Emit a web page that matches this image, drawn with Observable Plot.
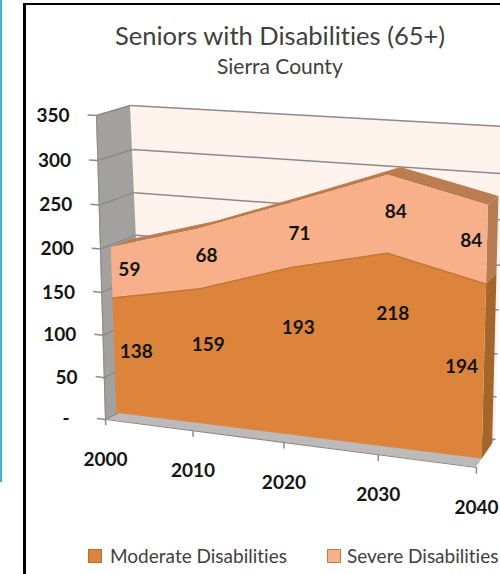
<!DOCTYPE html>
<html>
<head>
<meta charset="utf-8">
<script src="https://cdn.jsdelivr.net/npm/d3@7"></script>
<script src="https://cdn.jsdelivr.net/npm/@observablehq/plot@0.6"></script>
<style>
  html, body { margin: 0; background: #fff; overflow: hidden; }
  #page { position: relative; width: 500px; height: 574px; font-family: Lato, "Open Sans", sans-serif; color: #404040; font-variant-ligatures: none; }
  #rule { position: absolute; left: 0; top: 0; width: 1.5px; height: 482px; background: #3fb4cc; }
  #frameLeft { position: absolute; left: 23px; top: 3px; width: 2.5px; height: 571px; background: #000; }
  #frameTop { position: absolute; left: 23px; top: 3px; width: 477px; height: 2px; background: #000; }
  #title { position: absolute; left: 115px; top: 20px; font-size: 25.5px; line-height: 30px; white-space: nowrap; }
  #subtitle { position: absolute; left: 217px; top: 54px; font-size: 21px; line-height: 24px; white-space: nowrap; }
  #chart { position: absolute; left: 26px; top: 92px; }
  .key { position: absolute; top: 544px; font-size: 19px; line-height: 24px; white-space: nowrap; }
  .swatch { position: absolute; top: 549px; width: 12px; height: 12px; border: 1px solid; }
</style>
</head>
<body>
<div id="page">
  <div id="rule"></div>
  <div id="frameLeft"></div>
  <div id="frameTop"></div>
  <div id="title">Seniors with Disabilities (65+)</div>
  <div id="subtitle">Sierra County</div>
  <div id="chart"></div>
  <div class="swatch" style="left:88px;background:#dc843c;border-color:#b8702f"></div>
  <div class="key" style="left:110px">Moderate Disabilities</div>
  <div class="swatch" style="left:327px;background:#f8b08a;border-color:#c07a45"></div>
  <div class="key" style="left:347px">Severe Disabilities</div>
</div>
<script>
// Population counts by projection year
const years = [2000, 2010, 2020, 2030, 2040];
const moderate = [138, 159, 193, 218, 194];
const severe = [59, 68, 71, 84, 84];
const valueTicks = [0, 50, 100, 150, 200, 250, 300, 350];
const valueTickLabels = ["-\u00a0\u00a0", "50", "100", "150", "200", "250", "300", "350"];

const W = 474, H = 448, OX = 26, OY = 92;

// Linear scales for the unwarped chart sheet
const xDomain = [2000, 2040], xRange = [116 - OX, 482 - OX];
const yDomain = [0, 350], yRange = [413 - OY, 413 - OY - 0.87 * 350];

// Sheet position of a page location, so the box below can be described on the page
const toSheet = ([px, py]) => [
  xDomain[0] + (px - OX - xRange[0]) * (xDomain[1] - xDomain[0]) / (xRange[1] - xRange[0]),
  yDomain[0] + (py - OY - yRange[0]) * (yDomain[1] - yDomain[0]) / (yRange[1] - yRange[0])
];

// Corners of the 3-D box: near and far planes, ordered
// (first year, 0), (last year, 0), (last year, max), (first year, max)
const nearPlane = [[105, 419], [476, 467], [484, 140], [96, 115]].map(toSheet);
const farPlane = [[143, 398], [495, 439], [503, 126], [130, 105]].map(toSheet);

// Depth range occupied by the area solid inside the box
const zFront = 0.3, zBack = 0.85;

function homography(q) {
  const [[x0, y0], [x1, y1], [x2, y2], [x3, y3]] = q;
  const dx1 = x1 - x2, dx2 = x3 - x2, sx = x0 - x1 + x2 - x3;
  const dy1 = y1 - y2, dy2 = y3 - y2, sy = y0 - y1 + y2 - y3;
  const det = dx1 * dy2 - dx2 * dy1;
  const g = (sx * dy2 - dx2 * sy) / det, h = (dx1 * sy - sx * dy1) / det;
  return (u, v) => {
    const w = g * u + h * v + 1;
    return [
      ((x1 - x0 + g * x1) * u + (x3 - x0 + h * x3) * v + x0) / w,
      ((y1 - y0 + g * y1) * u + (y3 - y0 + h * y3) * v + y0) / w
    ];
  };
}

// Perspective projection of (year, value, depth) onto the sheet
function P(year, value, z) {
  const q = nearPlane.map((c, i) => [
    c[0] + (farPlane[i][0] - c[0]) * z,
    c[1] + (farPlane[i][1] - c[1]) * z
  ]);
  return homography(q)((year - xDomain[0]) / (xDomain[1] - xDomain[0]), value / yDomain[1]);
}

const total = moderate.map((m, i) => m + severe[i]);
const last = years.length - 1;

// A band between two projected curves, for Plot.area
const band = (rows, a, b, style) => Plot.area(rows, {
  x1: d => a(d)[0], y1: d => a(d)[1],
  x2: d => b(d)[0], y2: d => b(d)[1],
  ...style
});
const segment = (rows, a, b, style) => Plot.link(rows, {
  x1: d => a(d)[0], y1: d => a(d)[1],
  x2: d => b(d)[0], y2: d => b(d)[1],
  ...style
});
const curve = (rows, f, style) => Plot.line(rows, {x: d => f(d)[0], y: d => f(d)[1], ...style});

const idx = d3.range(years.length);

// Shifts that keep each value label clear of the slanted edges, in years and in units
const moderateLabelYear = [2.5, 0.75, 0.65, 0.6, -2.3];
const moderateLabelLift = [8, 15.5, 28.5, 43, 4];
const severeLabelYear = [2, 0.75, 0.85, 0.8, -1.6];
const severeLabelLift = [5, 4, 3, 3.5, 2.5];

const labels = idx.flatMap(i => [
  {text: String(moderate[i]), p: P(years[i] + moderateLabelYear[i], moderate[i] / 2 + moderateLabelLift[i], zFront)},
  {text: String(severe[i]), p: P(years[i] + severeLabelYear[i], moderate[i] + severe[i] / 2 + severeLabelLift[i], zFront)}
]);

const axisFont = {fontFamily: "Lato, 'Open Sans', sans-serif", fontWeight: 700, fontSize: 19, fill: "#141414"};

const plot = Plot.plot({
  width: W, height: H,
  margin: 0,
  style: {background: "transparent", overflow: "visible"},
  x: {domain: xDomain, range: xRange, axis: null},
  y: {domain: yDomain, range: yRange, axis: null},
  marks: [
    // Box: back wall, side wall, floor
    band(xDomain, y => P(y, 0, 1), y => P(y, 350, 1), {fill: "#fdf2ec"}),
    band([0, 350], v => P(2000, v, 0), v => P(2000, v, 1), {fill: "#a3a0a0"}),
    band(xDomain, y => P(y, 0, 0), y => P(y, 0, 1), {fill: "#bdbab9"}),

    // Grid lines running across the side wall and back wall
    segment(valueTicks, v => P(2000, v, 0), v => P(2000, v, 1), {stroke: "#8c8a8a", strokeWidth: 1.5}),
    segment(valueTicks, v => P(2000, v, 1), v => P(2040, v, 1), {stroke: "#8c8a8a", strokeWidth: 1.5}),
    curve([2000, 2040], y => P(y, 0, 0), {stroke: "#8c8a8a", strokeWidth: 1.2}),
    curve([0, 350], v => P(2000, v, 0), {stroke: "#8c8a8a", strokeWidth: 1}),

    // Axis ticks
    segment(valueTicks, v => P(2000, v, 0), v => P(1999, v, 0), {stroke: "#8c8a8a", strokeWidth: 1.5}),
    segment(years, y => P(y, 0, 0), y => P(y, -7, 0), {stroke: "#8c8a8a", strokeWidth: 1.5}),

    // Upper surface and end faces of the solid
    band(idx, i => P(years[i], total[i], zFront), i => P(years[i], total[i], zBack), {fill: "#bb7d50"}),
    band([0, 1], s => P(2040, s ? total[last] : moderate[last], zFront), s => P(2040, s ? total[last] : moderate[last], zBack), {fill: "#b87c52"}),
    band([0, 1], s => P(2040, s ? moderate[last] : 0, zFront), s => P(2040, s ? moderate[last] : 0, zBack), {fill: "#a5662c"}),

    // Front faces of the two stacked layers
    band(idx, i => P(years[i], moderate[i], zFront), i => P(years[i], total[i], zFront), {fill: "#f8b08a"}),
    band(idx, i => P(years[i], 0, zFront), i => P(years[i], moderate[i], zFront), {fill: "#dc843c"}),
    curve(idx, i => P(years[i], moderate[i], zFront), {stroke: "#c4763a", strokeWidth: 1.5}),

    // Axis labels
    Plot.text(valueTicks, {
      x: v => P(1999, v, 0)[0], y: v => P(1999, v, 0)[1],
      text: (v, i) => valueTickLabels[i], textAnchor: "end", dx: -18, dy: 1, ...axisFont
    }),
    Plot.text(years, {
      x: y => P(y, 0, 0)[0], y: y => P(y, 0, 0)[1],
      text: y => String(y), dy: 40, ...axisFont
    }),

    // Value labels on the front faces
    Plot.text(labels, {x: d => d.p[0], y: d => d.p[1], text: "text", ...axisFont})
  ]
});
document.getElementById("chart").appendChild(plot);
</script>
</body>
</html>
